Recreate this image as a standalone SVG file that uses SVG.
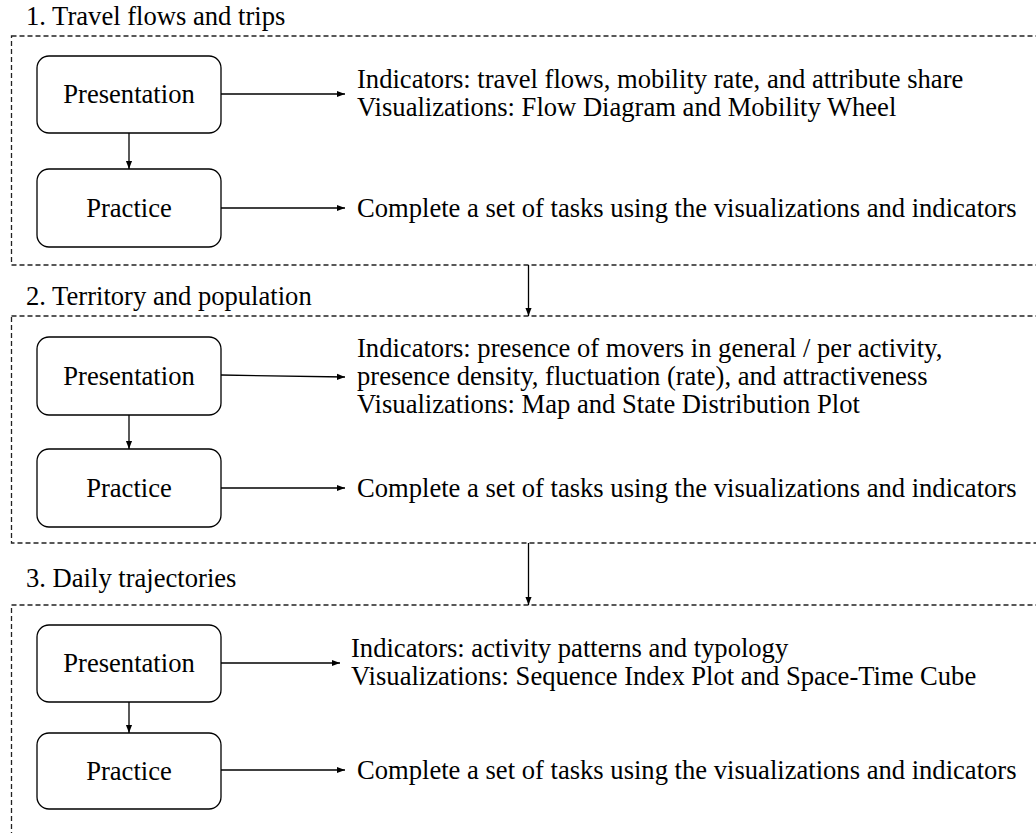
<svg xmlns="http://www.w3.org/2000/svg" width="1036" height="833" viewBox="0 0 1036 833">
<defs>
<marker id="ah" viewBox="0 0 10 10" refX="10" refY="5" markerWidth="8" markerHeight="8" markerUnits="userSpaceOnUse" orient="auto">
<path d="M0,1.2 L10,5 L0,8.8 Z" fill="#000"/>
</marker>
<style>
text{font-family:"Liberation Serif","Times New Roman",serif;font-size:26.6px;fill:#000}
.sec{fill:none;stroke:#222;stroke-width:1.3;stroke-dasharray:5,3}
.node rect{fill:#fff;stroke:#000;stroke-width:1.3}
.c{fill:none;stroke:#000;stroke-width:1.3;marker-end:url(#ah)}
.mid{text-anchor:middle}
</style>
</defs>
<rect width="1036" height="833" fill="#fff"/>

<g id="section1">
<text x="26" y="25">1. Travel flows and trips</text>
<rect class="sec" x="11.5" y="36" width="1040" height="229"/>
</g>
<g id="section2">
<text x="26" y="305">2. Territory and population</text>
<rect class="sec" x="11.5" y="316" width="1040" height="227"/>
</g>
<g id="section3">
<text x="26" y="587">3. Daily trajectories</text>
<rect class="sec" x="11.5" y="605" width="1040" height="260"/>
</g>

<g id="pres1" class="node"><rect x="37" y="56" width="184" height="77" rx="12"/><text class="mid" x="129" y="103">Presentation</text></g>
<g id="prac1" class="node"><rect x="37" y="169" width="184" height="78" rx="12"/><text class="mid" x="129" y="217">Practice</text></g>
<g id="out1a"><text x="357" y="88">Indicators: travel flows, mobility rate, and attribute share</text><text x="357" y="116">Visualizations: Flow Diagram and Mobility Wheel</text></g>
<g id="out1b"><text x="357" y="217">Complete a set of tasks using the visualizations and indicators</text></g>

<g id="pres2" class="node"><rect x="37" y="337" width="184" height="78" rx="12"/><text class="mid" x="129" y="385">Presentation</text></g>
<g id="prac2" class="node"><rect x="37" y="449" width="184" height="78" rx="12"/><text class="mid" x="129" y="497">Practice</text></g>
<g id="out2a"><text x="357" y="357">Indicators: presence of movers in general / per activity,</text><text x="357" y="385">presence density, fluctuation (rate), and attractiveness</text><text x="357" y="413">Visualizations: Map and State Distribution Plot</text></g>
<g id="out2b"><text x="357" y="497">Complete a set of tasks using the visualizations and indicators</text></g>

<g id="pres3" class="node"><rect x="37" y="625" width="184" height="77" rx="12"/><text class="mid" x="129" y="672">Presentation</text></g>
<g id="prac3" class="node"><rect x="37" y="733" width="184" height="76" rx="12"/><text class="mid" x="129" y="780">Practice</text></g>
<g id="out3a"><text x="351" y="657">Indicators: activity patterns and typology</text><text x="351" y="685">Visualizations: Sequence Index Plot and Space-Time Cube</text></g>
<g id="out3b"><text x="357" y="779">Complete a set of tasks using the visualizations and indicators</text></g>

<g id="connectors">
<line class="c" x1="221" y1="94" x2="345" y2="94"/>
<line class="c" x1="129" y1="133" x2="129" y2="169"/>
<line class="c" x1="221" y1="208" x2="345" y2="208"/>
<line class="c" x1="528.5" y1="265" x2="528.5" y2="316"/>
<line class="c" x1="221" y1="375" x2="345" y2="377"/>
<line class="c" x1="129" y1="415" x2="129" y2="449"/>
<line class="c" x1="221" y1="488" x2="345" y2="488"/>
<line class="c" x1="528.5" y1="543" x2="528.5" y2="605"/>
<line class="c" x1="221" y1="663" x2="340" y2="663"/>
<line class="c" x1="129" y1="702" x2="129" y2="733"/>
<line class="c" x1="221" y1="770" x2="345" y2="770"/>
</g>
</svg>
